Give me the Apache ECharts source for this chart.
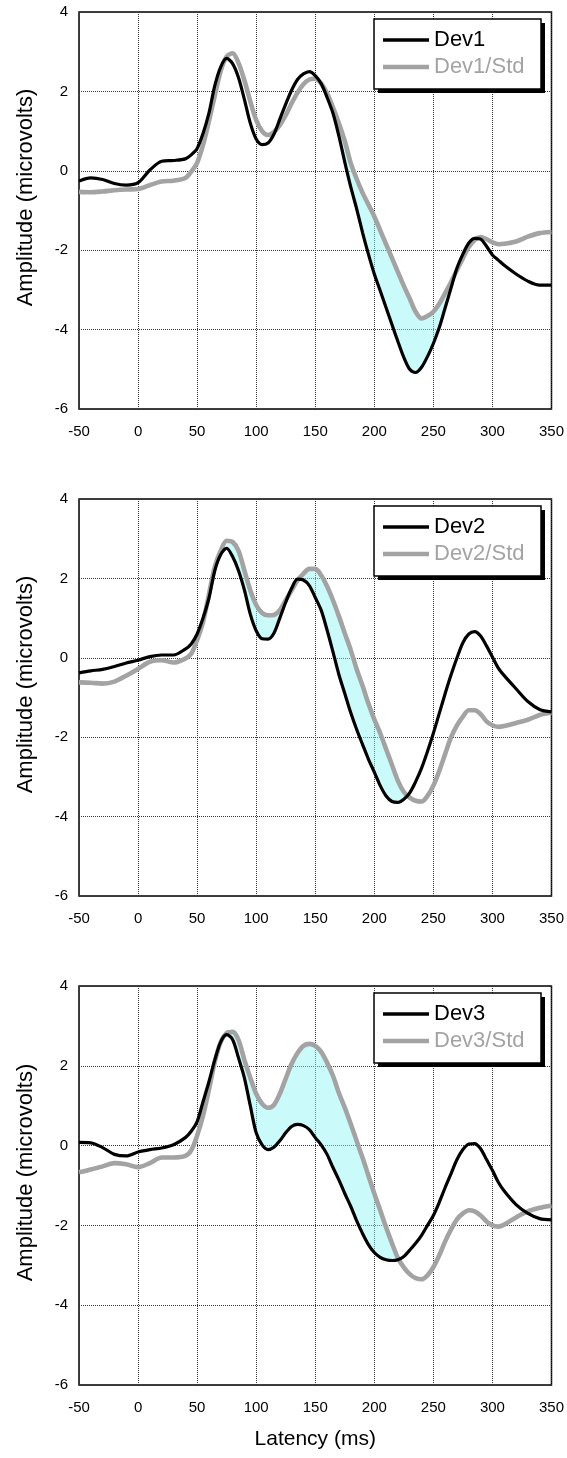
<!DOCTYPE html>
<html>
<head>
<meta charset="utf-8">
<script src="https://cdn.jsdelivr.net/npm/echarts@6/dist/echarts.min.js"></script>
<style>
  html, body { margin: 0; padding: 0; background: #fff; }
  #chart { width: 567px; height: 1458px; }
</style>
</head>
<body>
<div id="chart"></div>
<script>
// Latency sample points (ms)
const latency = [-50, -40, -30, -20, -10, 0, 10, 20, 30, 40,
  45, 50, 55, 60, 65, 70, 75, 80, 85, 90, 95, 100, 105, 110, 115, 120, 125, 130, 135, 140,
  145, 150, 155, 160, 165, 170, 175, 180, 185, 190, 195, 200, 205, 210, 215, 220, 225, 230,
  235, 240, 245, 250, 255, 260, 265, 270, 275, 280, 285, 290, 295, 300, 305, 310,
  320, 330, 340, 350];

// Amplitudes (microvolts), one value per latency sample
const dev1 = [-0.26, -0.18, -0.22, -0.32, -0.36, -0.30, 0.02, 0.24, 0.26, 0.30,
  0.40, 0.56, 0.94, 1.45, 2.15, 2.62, 2.83, 2.70, 2.35, 1.80, 1.20, 0.80, 0.66, 0.70, 0.92, 1.30, 1.68, 2.03, 2.30, 2.44,
  2.50, 2.40, 2.20, 1.85, 1.45, 0.88, 0.22, -0.40, -0.95, -1.55, -2.10, -2.60, -3.02, -3.45, -3.88, -4.30, -4.70, -5.00,
  -5.08, -4.95, -4.68, -4.35, -3.95, -3.45, -2.95, -2.45, -2.10, -1.82, -1.70, -1.72, -1.90, -2.12, -2.25, -2.38,
  -2.60, -2.78, -2.88, -2.88];
const dev1Std = [-0.53, -0.54, -0.52, -0.49, -0.47, -0.46, -0.36, -0.27, -0.25, -0.18,
  -0.02, 0.20, 0.65, 1.25, 1.90, 2.52, 2.88, 2.96, 2.72, 2.28, 1.75, 1.28, 1.00, 0.90, 0.98, 1.15, 1.40, 1.70, 1.97, 2.18,
  2.30, 2.32, 2.20, 1.95, 1.60, 1.20, 0.75, 0.20, -0.20, -0.55, -0.85, -1.15, -1.50, -1.85, -2.20, -2.55, -2.90, -3.22,
  -3.55, -3.72, -3.66, -3.55, -3.35, -3.08, -2.80, -2.50, -2.20, -1.92, -1.74, -1.67, -1.72, -1.80, -1.85, -1.84,
  -1.78, -1.66, -1.57, -1.54];

const dev2 = [-0.38, -0.33, -0.29, -0.22, -0.13, -0.06, 0.03, 0.07, 0.07, 0.22,
  0.35, 0.60, 1.00, 1.50, 2.20, 2.60, 2.76, 2.55, 2.20, 1.71, 1.10, 0.68, 0.48, 0.47, 0.62, 1.00, 1.40, 1.75, 1.98, 1.96,
  1.82, 1.52, 1.20, 0.70, 0.15, -0.42, -0.90, -1.38, -1.80, -2.18, -2.55, -2.88, -3.22, -3.48, -3.62, -3.64, -3.56, -3.40,
  -3.12, -2.78, -2.36, -1.90, -1.40, -0.90, -0.43, 0.00, 0.38, 0.60, 0.66, 0.55, 0.30, 0.02, -0.26, -0.45,
  -0.78, -1.10, -1.30, -1.36];
const dev2Std = [-0.62, -0.63, -0.65, -0.60, -0.45, -0.28, -0.10, -0.06, -0.12, -0.02,
  0.10, 0.45, 0.90, 1.60, 2.30, 2.70, 2.95, 2.92, 2.70, 2.20, 1.70, 1.33, 1.13, 1.07, 1.08, 1.20, 1.45, 1.70, 1.95, 2.12,
  2.24, 2.24, 2.08, 1.80, 1.45, 1.05, 0.62, 0.20, -0.28, -0.70, -1.15, -1.55, -1.90, -2.30, -2.70, -3.10, -3.38, -3.52,
  -3.60, -3.62, -3.48, -3.22, -2.85, -2.42, -2.00, -1.70, -1.48, -1.32, -1.32, -1.42, -1.60, -1.70, -1.74, -1.72,
  -1.64, -1.56, -1.44, -1.38];

const dev3 = [0.08, 0.07, -0.05, -0.22, -0.26, -0.16, -0.10, -0.06, 0.02, 0.20,
  0.36, 0.60, 1.10, 1.60, 2.15, 2.60, 2.78, 2.66, 2.20, 1.70, 1.00, 0.32, 0.02, -0.10, -0.04, 0.12, 0.32, 0.48, 0.53, 0.50,
  0.40, 0.20, 0.02, -0.22, -0.55, -0.86, -1.20, -1.52, -1.88, -2.20, -2.48, -2.68, -2.80, -2.86, -2.88, -2.86, -2.78, -2.62,
  -2.45, -2.25, -2.00, -1.75, -1.42, -1.05, -0.70, -0.35, -0.10, 0.04, 0.05, -0.08, -0.35, -0.62, -0.92, -1.14,
  -1.48, -1.70, -1.83, -1.86];
const dev3Std = [-0.67, -0.60, -0.52, -0.44, -0.47, -0.54, -0.44, -0.30, -0.30, -0.26,
  -0.12, 0.25, 0.75, 1.40, 2.10, 2.60, 2.82, 2.85, 2.65, 2.15, 1.70, 1.30, 1.05, 0.95, 1.02, 1.30, 1.68, 2.05, 2.32, 2.50,
  2.55, 2.50, 2.35, 2.08, 1.75, 1.32, 0.95, 0.55, 0.12, -0.30, -0.75, -1.20, -1.62, -2.05, -2.45, -2.82, -3.05, -3.22,
  -3.32, -3.35, -3.25, -3.05, -2.75, -2.40, -2.10, -1.85, -1.70, -1.62, -1.65, -1.75, -1.90, -2.00, -2.03, -1.98,
  -1.80, -1.65, -1.56, -1.50];

// Shaded latency windows (ms) where the deviant response runs below Dev/Std
const shadeWindows = [[170, 270], [75, 230], [75, 220]];

const devNames = ['Dev1', 'Dev2', 'Dev3'];
const stdNames = ['Dev1/Std', 'Dev2/Std', 'Dev3/Std'];
const devSeries = [dev1, dev2, dev3];
const stdSeries = [dev1Std, dev2Std, dev3Std];

// Axis ranges and tick spacing
const xRange = [-50, 350], xStep = 50;
const yRange = [-6, 4], yStep = 2;

const FONT = '"Liberation Sans", Arial, sans-serif';
const BLACK = '#000000';
const GREY = '#a3a3a3';
const SHADE = 'rgba(140, 245, 245, 0.45)';
const DEV_WIDTH = 3.2, STD_WIDTH = 4.6;

const panelTop = [12, 499, 986];
const panelHeight = [397, 397, 399];
const plotLeft = 79, plotWidth = 474;

// Legend frame geometry (relative to each panel's top)
const boxLeft = 374, boxOffset = 7, boxWidth = 167, boxHeight = 70, shadowShift = 4;

const pairs = vals => latency.map((t, i) => [t, vals[i]]);

// Legend key: a plain horizontal bar of the series' stroke thickness
const keyIcon = w => 'path://M0,0L46,0L46,' + w + 'L0,' + w + 'Z';

function shadeRenderer(devVals, stdVals, win) {
  return function (params, api) {
    const upper = [], lower = [];
    for (let i = 0; i < latency.length; i++) {
      const t = latency[i];
      if (t < win[0] || t > win[1]) continue;
      upper.push(api.coord([t, stdVals[i]]));
      lower.push(api.coord([t, Math.min(devVals[i], stdVals[i])]));
    }
    return {
      type: 'polygon',
      shape: { points: upper.concat(lower.reverse()) },
      style: { fill: SHADE, stroke: null }
    };
  };
}

const grid = [], xAxis = [], yAxis = [], series = [], legend = [], graphic = [];

for (let k = 0; k < 3; k++) {
  grid.push({
    left: plotLeft, top: panelTop[k], width: plotWidth, height: panelHeight[k],
    show: true, backgroundColor: '#ffffff', borderColor: '#000', borderWidth: 1.5
  });
  xAxis.push({
    type: 'value', gridIndex: k, min: xRange[0], max: xRange[1], interval: xStep,
    axisLine: { show: false }, axisTick: { show: false },
    splitLine: { show: true, lineStyle: { color: '#333', width: 1, type: [1, 1] } },
    axisLabel: { color: '#000', fontSize: 15, fontFamily: FONT, margin: 15, showMinLabel: true, showMaxLabel: true },
    name: k === 2 ? 'Latency (ms)' : '',
    nameLocation: 'middle', nameGap: 44,
    nameTextStyle: { color: '#000', fontSize: 21, fontFamily: FONT }
  });
  yAxis.push({
    type: 'value', gridIndex: k, min: yRange[0], max: yRange[1], interval: yStep,
    axisLine: { show: false }, axisTick: { show: false },
    splitLine: { show: true, lineStyle: { color: '#333', width: 1, type: [1, 1] } },
    axisLabel: { color: '#000', fontSize: 15, fontFamily: FONT, margin: 11 },
    name: 'Amplitude (microvolts)', nameLocation: 'middle', nameRotate: 90, nameGap: 42,
    nameTextStyle: { color: '#000', fontSize: 22, fontFamily: FONT, padding: [0, 0, 0, 26] }
  });
  series.push({
    type: 'custom', xAxisIndex: k, yAxisIndex: k, z: 1, silent: true,
    data: [[latency[0], 0]],
    renderItem: shadeRenderer(devSeries[k], stdSeries[k], shadeWindows[k])
  });
  series.push({
    name: stdNames[k], type: 'line', xAxisIndex: k, yAxisIndex: k, z: 3,
    data: pairs(stdSeries[k]), symbol: 'none', smooth: 0.3, silent: true,
    lineStyle: { color: GREY, width: STD_WIDTH }, itemStyle: { color: GREY }
  });
  series.push({
    name: devNames[k], type: 'line', xAxisIndex: k, yAxisIndex: k, z: 4,
    data: pairs(devSeries[k]), symbol: 'none', smooth: 0.3, silent: true,
    lineStyle: { color: BLACK, width: DEV_WIDTH }, itemStyle: { color: BLACK }
  });
  // Legend frame: solid drop shadow, then a white box with a black border
  const boxTop = panelTop[k] + boxOffset;
  graphic.push({
    type: 'rect', z: 10, silent: true,
    shape: { x: boxLeft + shadowShift, y: boxTop + shadowShift, width: boxWidth, height: boxHeight },
    style: { fill: '#000' }
  });
  graphic.push({
    type: 'rect', z: 11, silent: true,
    shape: { x: boxLeft, y: boxTop, width: boxWidth, height: boxHeight },
    style: { fill: '#fff', stroke: '#000', lineWidth: 1.5 }
  });
  legend.push({
    orient: 'vertical', left: boxLeft, top: boxTop, z: 12,
    data: [
      { name: devNames[k], icon: keyIcon(DEV_WIDTH + 0.4), itemStyle: { color: BLACK }, textStyle: { color: BLACK } },
      { name: stdNames[k], icon: keyIcon(STD_WIDTH), itemStyle: { color: GREY }, textStyle: { color: GREY } }
    ],
    itemWidth: 46, itemHeight: 14, itemGap: 5, symbolKeepAspect: true,
    padding: [10, 11, 11, 9],
    selectedMode: false,
    textStyle: { fontSize: 22, fontFamily: FONT, lineHeight: 22 }
  });
}

const chart = echarts.init(document.getElementById('chart'), null, { renderer: 'canvas' });
chart.setOption({
  animation: false,
  backgroundColor: '#ffffff',
  grid, xAxis, yAxis, series, legend, graphic
});
</script>
</body>
</html>
